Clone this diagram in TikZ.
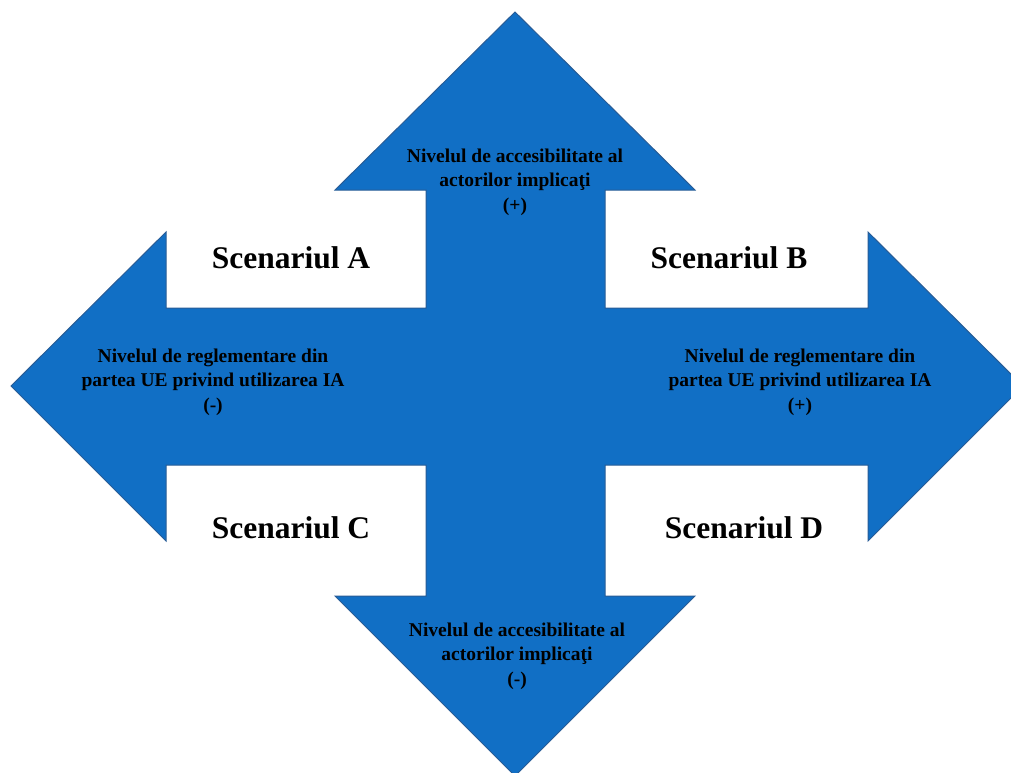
\documentclass[tikz,border=0pt]{standalone}
\usepackage{fontspec}
\setmainfont{Liberation Serif}
\definecolor{arrowblue}{RGB}{17,111,197}
\definecolor{edgeblue}{RGB}{40,92,150}
\begin{document}
\begin{tikzpicture}[x=1pt,y=-1pt,
  scen/.style={font=\bfseries\fontsize{31.5}{36}\selectfont, text=black, inner sep=0pt},
  axis/.style={font=\bfseries\fontsize{19.5}{24.5}\selectfont, text=black, align=center, inner sep=0pt}]
\useasboundingbox (0,0) rectangle (1011,772);
\clip (0,0) rectangle (1011,772);
\filldraw[fill=arrowblue, draw=edgeblue, line width=1pt, line join=miter]
  (515,12) -- (695,190) -- (605,190) -- (605,308) -- (868,308) -- (868,232)
  -- (1023,386) -- (868,541) -- (868,465) -- (605,465) -- (605,596)
  -- (695,596) -- (515,776) -- (335,596) -- (426,596) -- (426,465)
  -- (166,465) -- (166,541) -- (11,386) -- (166,232) -- (166,308)
  -- (426,308) -- (426,190) -- (335,190) -- cycle;
\node[axis] (up) at (515,182) {Nivelul de accesibilitate al\\actorilor implicaţi\\(+)};
\node[axis] (down) at (517,656) {Nivelul de accesibilitate al\\actorilor implicaţi\\(-)};
\node[axis] (left) at (213,382) {Nivelul de reglementare din\\partea UE privind utilizarea IA\\(-)};
\node[axis] (right) at (800,382) {Nivelul de reglementare din\\partea UE privind utilizarea IA\\(+)};
\node[scen, anchor=base] (sa) at (291,268) {Scenariul A};
\node[scen, anchor=base] (sb) at (729,268) {Scenariul B};
\node[scen, anchor=base] (sc) at (291,538) {Scenariul C};
\node[scen, anchor=base] (sd) at (744,538) {Scenariul D};
\end{tikzpicture}
\end{document}
